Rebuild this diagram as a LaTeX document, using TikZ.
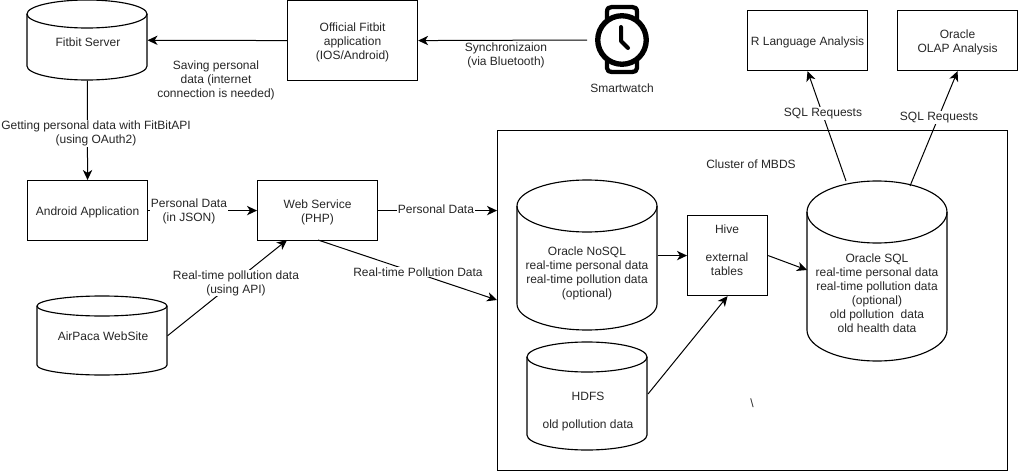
\documentclass[tikz,border=0pt]{standalone}
\usepackage{fontspec}
\setmainfont{Liberation Sans}
\usetikzlibrary{arrows.meta,calc}
\tikzset{
  x=0.75pt,y=-0.75pt,
  box/.style={draw,line width=0.85pt,inner sep=0pt,anchor=north west},
  cylbox/.style={inner sep=0pt,anchor=north west},
  txt/.style={align=center,inner sep=1pt,font=\fontsize{9}{10.5}\selectfont,text=black!85},
  lab/.style={txt,fill=white,inner sep=0.5pt},
  conn/.style={draw,line width=0.75pt,-{Stealth[length=7.5pt,width=7pt,inset=2.2pt]}},
}
% #1 name, #2 x, #3 y, #4 w, #5 h, #6 ry (all px)
\newcommand{\cyl}[6]{%
  \node[cylbox,minimum width=#4*0.75pt,minimum height=#5*0.75pt] (#1) at (#2,#3) {};
  \draw[line width=0.85pt,fill=white]
    (#2,#3+#6) arc[start angle=180,end angle=0,x radius=#4/2*0.75pt,y radius=#6*0.75pt]
    -- (#2+#4,#3+#5-#6) arc[start angle=0,end angle=-180,x radius=#4/2*0.75pt,y radius=#6*0.75pt] -- cycle;
  \draw[line width=0.85pt] (#2,#3+#6) arc[start angle=180,end angle=360,x radius=#4/2*0.75pt,y radius=#6*0.75pt];
}
\newcommand{\bx}[6]{%
  \node[box,minimum width=#4*0.75pt,minimum height=#5*0.75pt] (#1) at (#2,#3) {};
  \node[txt] (#1t) at ([yshift=-1.7pt]#1.center) {#6};
}
\begin{document}
\begin{tikzpicture}
\useasboundingbox (0,0) rectangle (1018,471);
\node[box,minimum width=510*0.75pt,minimum height=340*0.75pt] (cluster) at (497,130) {};
\node[txt] (clusterlab) at (751,164) {Cluster of MBDS};
\node[txt] (slash) at (752,403) {\textbackslash};

\cyl{fitbit}{27}{0}{120}{80}{14}
\node[txt] (fitbitt) at (88,42) {Fitbit Server};
\bx{official}{287}{0}{130}{80}{Official Fitbit\\application\\(IOS/Android)}
\bx{rlang}{747}{10}{120}{60}{R Language Analysis}
\bx{olap}{897}{10}{120}{60}{Oracle\\OLAP Analysis}
\bx{android}{27}{180}{120}{60}{Android Application}
\bx{web}{257}{180}{120}{60}{Web Service\\(PHP)}
\cyl{air}{37}{296}{130}{79}{10}
\node[txt] (airt) at (103,336) {AirPaca WebSite};
\cyl{nosql}{517}{180}{140}{150}{26}
\node[txt] (nosqlt) at (587,273) {Oracle NoSQL\\real-time personal data\\real-time pollution data\\(optional)};
\cyl{hdfs}{527}{342}{120}{108}{15}
\node[txt] (hdfst) at (588,412) {HDFS\\[10.5pt]old pollution data};
\node[box,minimum width=80*0.75pt,minimum height=80*0.75pt] (hive) at (687,215) {};
\node[txt] (hivet) at (727,250.5) {Hive\\[10.5pt]external\\tables};
\cyl{osql}{807}{181}{140}{180}{31}
\node[txt] (osqlt) at (877,293) {Oracle SQL\\real-time personal data\\real-time pollution data\\(optional)\\old pollution\ \ data\\old health data};

% smartwatch
\node[inner sep=0pt,minimum width=54*0.75pt,minimum height=70*0.75pt] (watch) at (622,40) {};
\begin{scope}[line width=3.2pt,line join=round,line cap=round]
  \draw[line width=4pt] (622,40) circle[radius=18.2pt];
  \draw (607,20) -- (607,12) .. controls (607,8) and (609,7) .. (612,7) -- (632,7) .. controls (635,7) and (637,8) .. (637,12) -- (637,20);
  \draw (607,60) -- (607,68) .. controls (607,71) and (609,72) .. (612,72) -- (632,72) .. controls (635,72) and (637,71) .. (637,68) -- (637,60);
  \draw[line width=3pt] (621,27) -- (621,41) -- (628,48);
\end{scope}
\node[txt] (watcht) at (622,88) {Smartwatch};

% connectors
\coordinate (watchout) at (587,40);
\path[conn] (watchout) -- (official.east);
\path[conn] (official.west) -- (fitbit.east);
\path[conn] (fitbit.south) -- (android.north);
\path[conn] (android.east) -- (web.west);
\path[conn] (web.east) -- (cluster.west |- web.east);
\coordinate (webout) at (318,240);
\coordinate (clin) at (497,300);
\path[conn] (webout) -- (clin);
\coordinate (webin) at (287,240);
\path[conn] (air.east) -- (webin);
\path[conn] (nosql.east |- hive.west) -- (hive.west);
\coordinate (hdfsout) at (648,394);
\path[conn] (hdfsout) -- (hive.south);
\coordinate (osqlin) at (807,270);
\path[conn] (hive.east) -- (osqlin);
\coordinate (r1) at (846,181);
\coordinate (r2) at (910,186);
\path[conn] (r1) -- (rlang.south);
\path[conn] (r2) -- (olap.south);

% labels
\node[txt] (l1) at (506,55) {Synchronizaion\\(via Bluetooth)};
\node[txt] (l2) at (216,80) {Saving personal\\data (internet\\connection is needed)};
\node[lab] (l3) at (96,133.5) {Getting personal data with FitBitAPI\\(using OAuth2)};
\node[lab] (l4) at (189,211) {Personal Data\\(in JSON)};
\node[lab] (l5) at (436,209) {Personal Data};
\node[lab] (l6) at (418,272) {Real-time Pollution Data};
\node[lab] (l7) at (236,283) {Real-time pollution data\\(using API)};
\node[lab] (l8) at (823,113.5) {SQL Requests};
\node[lab] (l9) at (939,117.5) {SQL Requests};
\end{tikzpicture}
\end{document}
